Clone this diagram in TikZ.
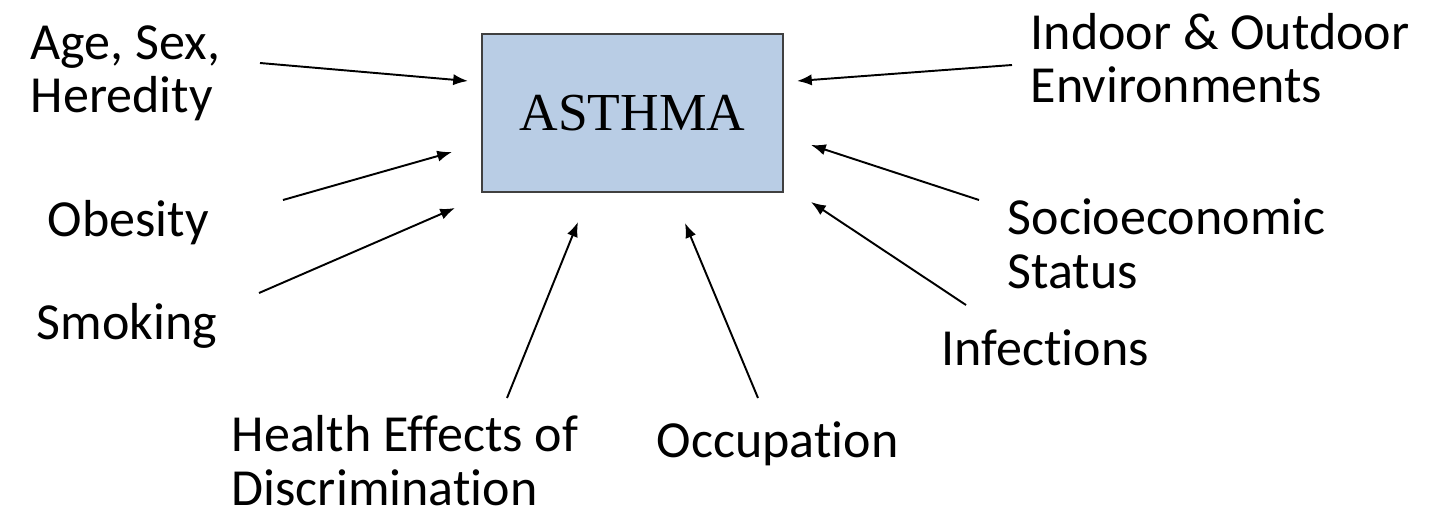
\documentclass[tikz,border=0pt]{standalone}
\usepackage{fontspec}
\setmainfont[Ligatures=NoCommon]{Carlito}
\newfontfamily\boxfont{Liberation Serif}
\usetikzlibrary{arrows.meta}
\tikzset{>={Latex[length=4.2pt,width=3.2pt]}}
\definecolor{boxblue}{HTML}{B9CDE5}
\colorlet{boxline}{black!75}
\tikzstyle{arrow}=[->,line width=0.55pt]
\tikzstyle{factor}=[anchor=base west,inner sep=0,align=left,font=\fontsize{14.8}{15.1}\selectfont]
\tikzstyle{disease}=[draw=boxline,line width=0.6pt,fill=boxblue,minimum width=3.01cm,minimum height=1.58cm,inner sep=0,font=\boxfont\fontsize{15.2}{16}\selectfont]

\begin{document}
\begin{tikzpicture}[x=0.01cm,y=-0.01cm]
  \useasboundingbox (0,0) rectangle (1441,515);

  % BOX
  \node[disease] (asthma) at (632.5,113) {ASTHMA};

  % FACTORS (base = last line)
  \node[factor] (age)   at (30,113)    {Age, Sex,\\Heredity};
  \node[factor] (obes)  at (47,236)    {Obesity};
  \node[factor] (smok)  at (36,339)    {Smoking};
  \node[factor] (health) at (231,505)  {Health Effects of\\Discrimination};
  \node[factor] (occup) at (656,457)   {Occupation};
  \node[factor] (infec) at (941,365)   {Infections};
  \node[factor] (socio) at (1007,288)  {Socioeconomic\\Status};
  \node[factor] (envir) at (1030,103)  {Indoor \& Outdoor\\Environments};

  % ARROW ENDS
  \coordinate (age-t)    at (260,63);
  \coordinate (age-h)    at (468,81);
  \coordinate (obes-t)   at (283,200);
  \coordinate (obes-h)   at (452,152);
  \coordinate (smok-t)   at (259,293);
  \coordinate (smok-h)   at (455,208);
  \coordinate (health-t) at (507,398);
  \coordinate (health-h) at (578,222);
  \coordinate (occup-t)  at (758,398);
  \coordinate (occup-h)  at (685,223);
  \coordinate (infec-t)  at (966,305);
  \coordinate (infec-h)  at (811,202);
  \coordinate (socio-t)  at (979,200);
  \coordinate (socio-h)  at (811,145);
  \coordinate (envir-t)  at (1012,65);
  \coordinate (envir-h)  at (797,81);

  % ARROWS
  \foreach \f in {age,obes,smok,health,occup,infec,socio,envir}
    \draw[arrow] (\f-t) -- (\f-h);
\end{tikzpicture}
\end{document}
